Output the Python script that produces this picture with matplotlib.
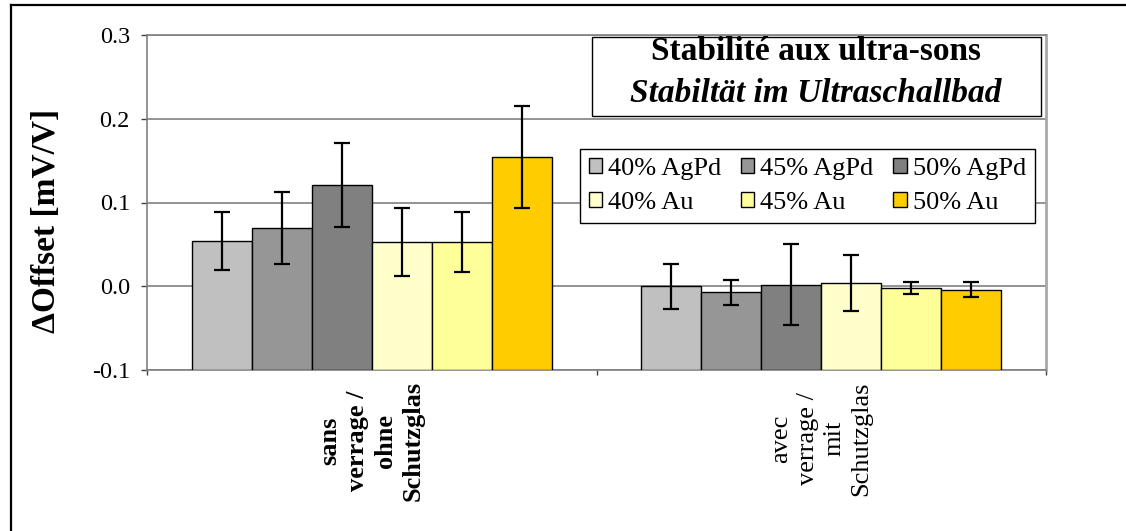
import matplotlib
matplotlib.use('Agg')
import matplotlib.pyplot as plt
import numpy as np
from matplotlib.patches import Rectangle
from matplotlib.lines import Line2D
from matplotlib.ticker import FormatStrFormatter

# Categories (x axis) and series
categories = ["sans\nverrage /\nohne\nSchutzglas", "avec\nverrage /\nmit\nSchutzglas"]
series_labels = ["40% AgPd", "45% AgPd", "50% AgPd", "40% Au", "45% Au", "50% Au"]
series_colors = ["#C0C0C0", "#969696", "#808080", "#FFFFCC", "#FFFF99", "#FFCC00"]

# Offset change [mV/V] per series, one value per category
sans_values = [0.054, 0.070, 0.121, 0.053, 0.053, 0.154]
avec_values = [0.000, -0.007, 0.002, 0.004, -0.002, -0.004]
sans_errors = [0.035, 0.043, 0.050, 0.041, 0.036, 0.061]
avec_errors = [0.027, 0.015, 0.048, 0.033, 0.007, 0.009]

y_ticks = [-0.1, 0.0, 0.1, 0.2, 0.3]
y_min, y_max = -0.1, 0.3

plt.rcParams['font.family'] = ['Liberation Serif', 'DejaVu Serif']
plt.rcParams['axes.unicode_minus'] = False

W, H = 1126, 531
fig = plt.figure(figsize=(W / 100, H / 100), dpi=100)
ax = fig.add_axes([147 / W, 1 - 370 / H, 899 / W, 335 / H])

# outer chart frame (left and top edges visible)
fig.add_artist(Line2D([11 / W, 11 / W], [0, 1 - 5 / H], transform=fig.transFigure,
                      color='black', lw=1.6))
fig.add_artist(Line2D([11 / W, 1], [1 - 5 / H, 1 - 5 / H], transform=fig.transFigure,
                      color='black', lw=1.6))

x = np.arange(len(categories))
bar_w = 0.1335
bars = []
for i, (lab, col) in enumerate(zip(series_labels, series_colors)):
    vals = np.array([sans_values[i], avec_values[i]])
    errs = np.array([sans_errors[i], avec_errors[i]])
    pos = x + (i - 2.5) * bar_w
    # bars rise from the bottom of the value axis
    b = ax.bar(pos, vals - y_min, bottom=y_min, width=bar_w, color=col,
               edgecolor='black', linewidth=1, label=lab, zorder=3)
    ax.errorbar(pos, vals, yerr=errs, fmt='none', ecolor='black',
                elinewidth=1.6, capsize=5.5, capthick=1.6, zorder=4)
    bars.append(b)

ax.set_xlim(-0.5, 1.5)
ax.set_ylim(y_min, y_max)
ax.set_yticks(y_ticks)
ax.yaxis.set_major_formatter(FormatStrFormatter('%.1f'))
ax.yaxis.grid(True, color='#808080', lw=1.2)
ax.set_axisbelow(True)

for s in ['left', 'bottom', 'top']:
    ax.spines[s].set_color('#808080')
    ax.spines[s].set_linewidth(1.2)
ax.spines['right'].set_color('#A8A8A8')
ax.spines['right'].set_linewidth(2)

ax.tick_params(axis='y', direction='out', length=4.3, width=1, color='#404040',
               labelsize=17.5, pad=8)
ax.set_xticks(x)
ax.set_xticklabels(categories, rotation=90, va='top', ha='center',
                   multialignment='center', linespacing=1.27, fontsize=19)
ax.xaxis.get_ticklabels()[0].set_fontweight('bold')
ax.set_xticks([-0.5, 0.5, 1.5], minor=True)
ax.tick_params(axis='x', which='major', length=0, pad=8)
ax.tick_params(axis='x', which='minor', direction='out', length=3.6, width=1,
               color='#404040')

ax.set_ylabel('ΔOffset [mV/V]', fontsize=24, fontweight='bold')
ax.yaxis.set_label_coords(-0.095, 0.445)

# title box inside the plot area
ax.add_patch(Rectangle((0.495, 0.758), 0.499, 0.236, transform=ax.transAxes,
                       facecolor='white', edgecolor='black', lw=1, zorder=5))
ax.text(0.744, 0.952, 'Stabilité aux ultra-sons', transform=ax.transAxes,
        ha='center', va='center', fontsize=24, fontweight='bold', zorder=6)
ax.text(0.744, 0.826, 'Stabiltät im Ultraschallbad', transform=ax.transAxes,
        ha='center', va='center', fontsize=24, fontweight='bold', style='italic',
        zorder=6)

# legend: rows AgPd / Au, filled column by column
order = [0, 3, 1, 4, 2, 5]
leg = ax.legend([bars[k] for k in order], [series_labels[k] for k in order],
                ncol=3, loc='upper right', bbox_to_anchor=(0.988, 0.66),
                borderaxespad=0, fontsize=19, frameon=True, fancybox=False,
                edgecolor='black', framealpha=1, handlelength=0.5,
                handleheight=0.5, handletextpad=0.23, columnspacing=0.75,
                labelspacing=0.45, borderpad=0.35)
leg.get_frame().set_linewidth(1)
leg.set_zorder(6)

fig.savefig('out.png', dpi=100, facecolor='white')
